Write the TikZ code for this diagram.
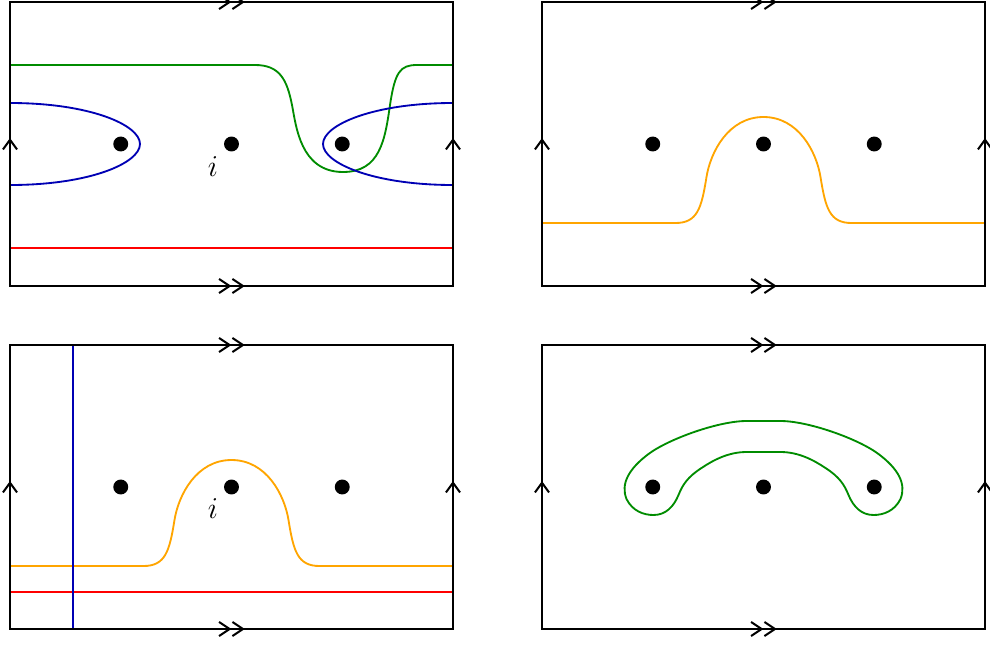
\documentclass[tikz,border=0pt]{standalone}
\usetikzlibrary{arrows.meta,decorations.markings}
\definecolor{cgreen}{RGB}{0,140,0}
\definecolor{cblue}{RGB}{0,0,180}
\definecolor{cred}{RGB}{255,0,0}
\definecolor{corange}{RGB}{255,165,0}
\tikzset{
  edgeline/.style={line width=1.15pt, black, line cap=rect},
  dblarrow/.style={postaction={decorate, decoration={markings,
      mark=at position 0.53 with {\arrow{Straight Barb[length=6pt,width=8pt,line cap=butt] Straight Barb[length=6pt,width=8pt,line cap=butt]}}}}},
  sglarrow/.style={postaction={decorate, decoration={markings,
      mark=at position 0.521 with {\arrow{Straight Barb[length=5.5pt,width=8pt,line cap=butt]}}}}},
  puncture/.style={circle, fill=black, inner sep=0pt, minimum size=8.5pt},
  crv/.style={line width=1.05pt},
  lab/.style={font=\LARGE, inner sep=0pt}
}
\newcommand\panelframe[3]{%
  \coordinate (#1sw) at (#2-221.5,#3+142);
  \coordinate (#1se) at (#2+221.5,#3+142);
  \coordinate (#1nw) at (#2-221.5,#3-142);
  \coordinate (#1ne) at (#2+221.5,#3-142);
  \draw[edgeline,dblarrow] (#1sw) -- (#1se);
  \draw[edgeline,dblarrow] (#1nw) -- (#1ne);
  \draw[edgeline,sglarrow] (#1sw) -- (#1nw);
  \draw[edgeline,sglarrow] (#1se) -- (#1ne);
  \node[puncture] (#1a) at (#2-110.75,#3) {};
  \node[puncture] (#1b) at (#2,#3) {};
  \node[puncture] (#1c) at (#2+110.75,#3) {};
}
\begin{document}
\begin{tikzpicture}[x=0.02cm,y=-0.02cm]
\useasboundingbox (0,0) rectangle (990,646);

% ---------- panel 1 ----------
\draw[crv,cgreen] (10,65) -- (255,65) .. controls (280,65) and (287,80) .. (292,105)
  .. controls (296,125) and (300,172) .. (343,172)
  .. controls (380,172) and (385,140) .. (390,105)
  .. controls (395,72) and (400,65) .. (417,65) -- (453,65);
\draw[crv,cblue] (10,103) .. controls (90,103) and (140,125) .. (140,144)
  .. controls (140,163) and (90,185) .. (10,185);
\draw[crv,cblue] (453,103) .. controls (373,103) and (323,125) .. (323,144)
  .. controls (323,163) and (373,185) .. (453,185);
\draw[crv,cred] (10,248) -- (453,248);
\panelframe{p1}{231.5}{144}
\node[lab] (p1i) at (213,167) {$i$};

% ---------- panel 2 ----------
\begin{scope}[shift={(763.5,144)}]
\draw[crv,corange] (-221.5,79) -- (-88,79) .. controls (-66,79) and (-62,64) .. (-57,33)
  .. controls (-53,8) and (-35,-27) .. (0,-27)
  .. controls (35,-27) and (53,8) .. (57,33)
  .. controls (62,64) and (66,79) .. (88,79) -- (221.5,79);
\end{scope}
\panelframe{p2}{763.5}{144}

% ---------- panel 3 ----------
\begin{scope}[shift={(231.5,487)}]
\draw[crv,corange] (-221.5,79) -- (-88,79) .. controls (-66,79) and (-62,64) .. (-57,33)
  .. controls (-53,8) and (-35,-27) .. (0,-27)
  .. controls (35,-27) and (53,8) .. (57,33)
  .. controls (62,64) and (66,79) .. (88,79) -- (221.5,79);
\end{scope}
\draw[crv,cred] (10,592) -- (453,592);
\draw[crv,cblue] (73,345) -- (73,629);
\panelframe{p3}{231.5}{487}
\node[lab] (p3i) at (213,509) {$i$};

% ---------- panel 4 ----------
\begin{scope}[shift={(763.5,487)}]
\draw[crv,cgreen] (-17,-66) -- (17,-66)
  .. controls (45,-66) and (95,-48) .. (115,-33)
  .. controls (135,-18) and (143,-3) .. (137,12)
  .. controls (131,24) and (120,28) .. (110,28)
  .. controls (98,28) and (90,20) .. (85,8)
  .. controls (81,-2) and (76,-10) .. (62,-19)
  .. controls (50,-27) and (35,-35) .. (17,-35)
  -- (-17,-35)
  .. controls (-35,-35) and (-50,-27) .. (-62,-19)
  .. controls (-76,-10) and (-81,-2) .. (-85,8)
  .. controls (-90,20) and (-98,28) .. (-110,28)
  .. controls (-120,28) and (-131,24) .. (-137,12)
  .. controls (-143,-3) and (-135,-18) .. (-115,-33)
  .. controls (-95,-48) and (-45,-66) .. (-17,-66) -- cycle;
\end{scope}
\panelframe{p4}{763.5}{487}
\end{tikzpicture}
\end{document}
